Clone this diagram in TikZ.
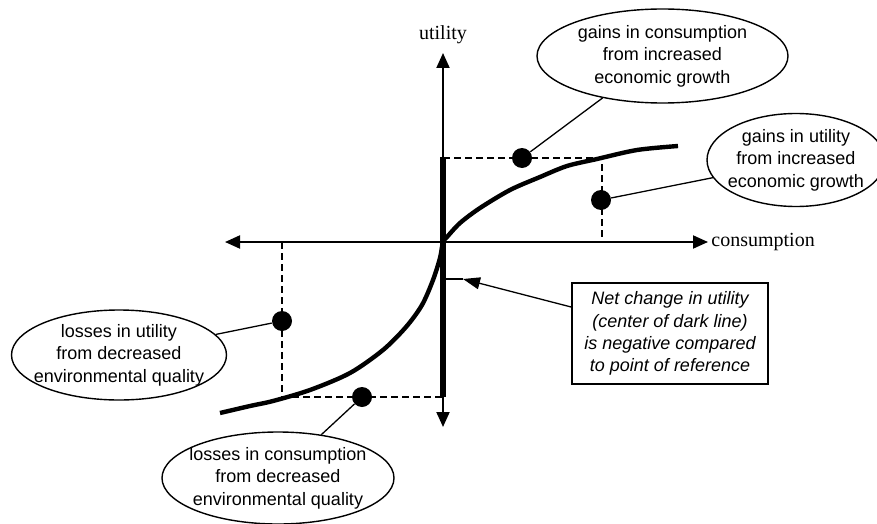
\documentclass[tikz,border=0pt]{standalone}
\usepackage{fontspec}
\setmainfont{Liberation Sans}
\newfontfamily\seriflabel{Liberation Serif}
\usetikzlibrary{shapes.geometric,arrows.meta}

\tikzset{
  axis/.style={line width=1pt,{Triangle[length=7.5pt,width=6.5pt]}-{Triangle[length=7.5pt,width=6.5pt]}},
  axislabel/.style={font=\seriflabel\fontsize{10}{12}\selectfont,inner sep=1.5pt},
  guide/.style={line width=0.75pt,dash pattern=on 3.5pt off 2pt},
  spot/.style={circle,fill,inner sep=0pt,minimum size=10pt},
  bubble/.style={ellipse,draw,line width=0.7pt,align=center,inner xsep=-12pt,inner ysep=-6pt,font=\fontsize{9}{11.2}\selectfont},
  lead/.style={line width=0.65pt},
  notebox/.style={draw,line width=0.9pt,align=center,minimum width=98pt,minimum height=50.5pt,font=\itshape\fontsize{9}{11.15}\selectfont}
}

\begin{document}
\begin{tikzpicture}[x=0.5pt,y=-0.5pt]
 \useasboundingbox (0,0) rectangle (877,524);
 \coordinate (xl) at (225,242);
 \coordinate (xr) at (708,242);
 \coordinate (yt) at (443,53);
 \coordinate (yb) at (443,427);
 \draw[axis] (xl) -- (xr);
 \draw[axis] (yb) -- (yt);
 \node[axislabel,right] (cons) at (xr) {consumption};
 \node[axislabel] (util) at (443,35) {utility};

 \draw[guide] (443,158) -- (602,158) -- (602,242);
 \draw[guide] (282,242) -- (282,397) -- (443,397);
 \draw[line width=3pt] (443,157) -- (443,397);
 \draw[line width=2.2pt,line join=round] plot[smooth] coordinates {(220,413) (250,406) (273,401) (310,390) (350,373) (383,350) (406,327) (422,305) (433,280) (440,258) (443,242) (447,237) (460,223) (480,208) (510,190) (540,177) (567,166) (597,159) (637,150) (678,146)};

 \node[spot] (gcdot) at (522,158) {};
 \node[spot] (gudot) at (601,200) {};
 \node[spot] (ludot) at (282,321) {};
 \node[spot] (lcdot) at (362,397) {};

 \node[bubble,minimum width=125.5pt,minimum height=47pt] (gaincons) at (662.5,56) {gains in consumption\\from increased\\economic growth};
 \node[bubble,minimum width=89pt,minimum height=46.5pt] (gainutil) at (796,160) {gains in utility\\from increased\\economic growth};
 \node[bubble,minimum width=107.5pt,minimum height=45pt] (lossutil) at (119,355) {losses in utility\\from decreased\\environmental quality};
 \node[bubble,minimum width=116pt,minimum height=46pt] (losscons) at (278,478) {losses in consumption\\from decreased\\environmental quality};
 \draw[lead] (gaincons.215) -- (gcdot);
 \draw[lead] (gainutil.192) -- (gudot);
 \draw[lead] (lossutil.12) -- (ludot);
 \draw[lead] (losscons.45) -- (lcdot);

 \node[notebox] (net) at (670,333.5) {Net change in utility\\(center of dark line)\\is negative compared\\to point of reference};
 \coordinate (mid) at (443,279);
 \coordinate (midtip) at (463,279);
 \draw[lead] (mid) -- (midtip);
 \draw[lead,-{Triangle[length=8.5pt,width=6pt]}] (net.165) -- (midtip);
\end{tikzpicture}
\end{document}
